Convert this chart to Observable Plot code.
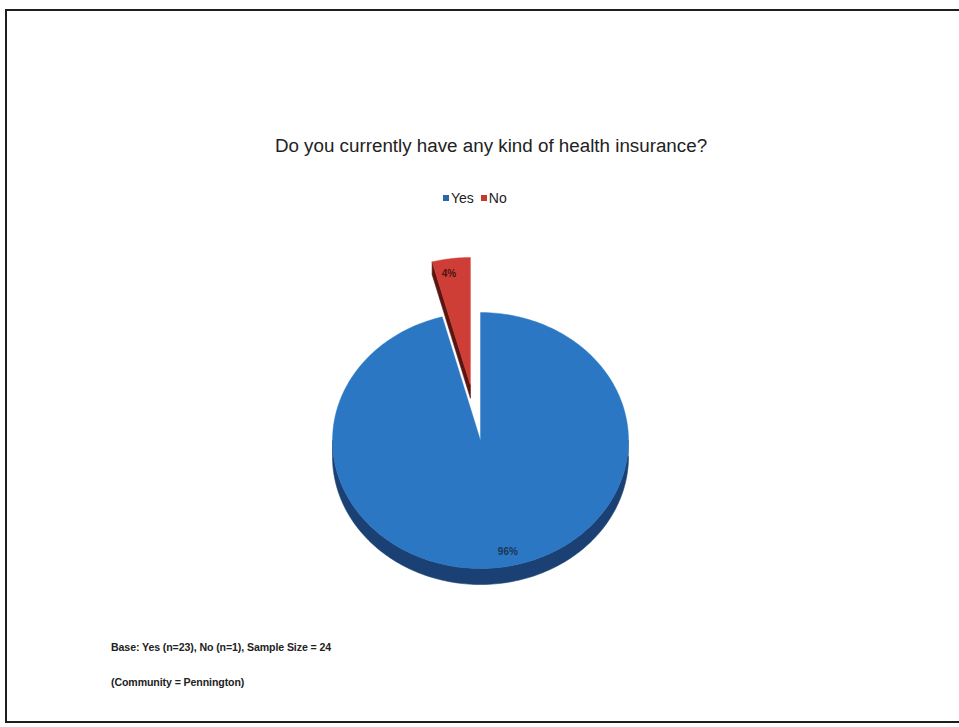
<!DOCTYPE html>
<html><head><meta charset="utf-8">
<script src="https://cdn.jsdelivr.net/npm/d3@7"></script>
<script src="https://cdn.jsdelivr.net/npm/@observablehq/plot@0.6"></script>
<style>
body{margin:0;background:#fff;font-family:"Liberation Sans",Arial,sans-serif;width:959px;height:727px;overflow:hidden;position:relative;}
#frame{position:absolute;left:5px;top:9px;width:980px;height:714px;border:2px solid #1e1e1e;box-sizing:border-box;}
#title{position:absolute;left:0;width:982px;top:135px;text-align:center;font-size:18.8px;color:#222;}
#legend{position:absolute;left:443px;top:190px;font-size:14px;color:#222;white-space:nowrap;}
#legend span.sw{display:inline-block;width:6px;height:6px;margin-right:2px;vertical-align:2px;}
#legend span.item{margin-right:7px;}
#chart{position:absolute;left:0;top:230px;}
.note{position:absolute;left:111px;font-size:10.6px;color:#222;font-weight:bold;letter-spacing:-0.1px;}
</style></head><body>
<div id="frame"></div>
<div id="title"></div>
<div id="legend"></div>
<div id="chart"></div>
<div class="note" id="note0" style="top:641px"></div>
<div class="note" id="note1" style="top:676px"></div>
<script>
const titleText = "Do you currently have any kind of health insurance?";
const categories = ["Yes", "No"];
const counts = [23, 1];
const sliceLabels = ["96%", "4%"];
const topColors = ["#2b77c3", "#cf3e36"];
const sideColors = ["#1b4174", "#5a1510"];
const labelColors = ["#1c3556", "#4a1510"];
const legendColors = ["#2a67a8", "#c23a32"];
const exploded = [false, true];
const notes = ["Base: Yes (n=23), No (n=1), Sample Size = 24", "(Community = Pennington)"];

document.getElementById("title").textContent = titleText;
document.getElementById("legend").innerHTML = categories.map((c, i) =>
  `<span class="item"><span class="sw" style="background:${legendColors[i]}"></span>${c}</span>`).join("");
notes.forEach((n, i) => document.getElementById("note" + i).textContent = n);

// pie geometry (unit circle, tilted via y scale)
const depth = 0.125;
const explodeDx = -0.068, explodeDy = 0.43;
const arcs = d3.pie().sort(null).startAngle(0).endAngle(2 * Math.PI)(counts);

function pt(a, r, off) { return {x: r * Math.sin(a) + off.x, y: r * Math.cos(a) + off.y}; }
function arcPts(a0, a1, r, off, dy = 0) {
  const n = Math.max(2, Math.ceil((a1 - a0) / 0.02));
  const out = [];
  for (let k = 0; k <= n; k++) { const p = pt(a0 + (a1 - a0) * k / n, r, off); p.y += dy; out.push(p); }
  return out;
}

const sidePolys = [], topPolys = [], labelData = [];
arcs.forEach((a, i) => {
  const off = exploded[i] ? {x: explodeDx, y: explodeDy} : {x: 0, y: 0};
  // front rim (visible between 90° and 270°)
  const s0 = Math.max(a.startAngle, Math.PI / 2), s1 = Math.min(a.endAngle, 3 * Math.PI / 2);
  if (s1 > s0) {
    const upper = arcPts(s0, s1, 1, off);
    const lower = arcPts(s0, s1, 1, off, -depth).reverse();
    sidePolys.push({pts: upper.concat(lower), color: sideColors[i]});
  }
  // cut face at start angle, visible when facing the viewer
  if (a.startAngle > Math.PI) {
    const c = {x: off.x, y: off.y}, r = pt(a.startAngle, 1, off);
    sidePolys.push({pts: [c, r, {x: r.x, y: r.y - depth * 0.8}, {x: c.x, y: c.y - depth * 0.8}, c], color: sideColors[i]});
  }
  const face = [{x: off.x, y: off.y}].concat(arcPts(a.startAngle, a.endAngle, 1, off), [{x: off.x, y: off.y}]);
  topPolys.push({pts: face, color: topColors[i]});
  const mid = (a.startAngle + a.endAngle) / 2;
  const lp = pt(mid, 0.88, off);
  labelData.push({x: lp.x + (i === 0 ? 0.07 : -0.03), y: lp.y, text: sliceLabels[i], color: labelColors[i]});
});

const marks = [];
sidePolys.forEach(p => marks.push(Plot.line(p.pts, {x: "x", y: "y", fill: p.color, stroke: p.color, strokeWidth: 0.6})));
topPolys.forEach(p => marks.push(Plot.line(p.pts, {x: "x", y: "y", fill: p.color, stroke: p.color, strokeWidth: 0.4})));
marks.push(Plot.text(labelData, {x: "x", y: "y", text: "text", fill: "color", fontSize: 10, fontWeight: "bold", fontFamily: "Liberation Sans, Arial, sans-serif"}));

const chart = Plot.plot({
  width: 959, height: 380,
  marginLeft: 332, marginRight: 331, marginTop: 82, marginBottom: 42,
  x: {domain: [-1, 1], axis: null},
  y: {domain: [-1, 1], axis: null},
  style: {background: "transparent", overflow: "visible"},
  marks
});
document.getElementById("chart").appendChild(chart);
</script>
</body></html>
